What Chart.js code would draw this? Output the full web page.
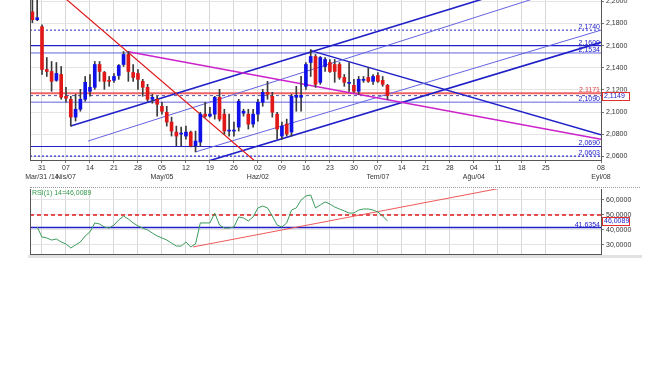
<!DOCTYPE html>
<html>
<head>
<meta charset="utf-8">
<script src="https://cdn.jsdelivr.net/npm/chart.js@4.4.1/dist/chart.umd.min.js"></script>
<style>
  body { margin: 0; background: #fff; width: 654px; height: 366px; position: relative; overflow: hidden; }
  canvas { position: absolute; left: 0; }
  #priceChart { top: 0; }
  #rsiChart { top: 186px; }
  .sep { position: absolute; left: 30px; width: 610px; top: 187px; border-top: 1px dotted #999; }
  .strip { position: absolute; left: 28px; width: 614px; top: 255px; height: 3px; background: #e2e2e2; }
</style>
</head>
<body>
<canvas id="priceChart" width="654" height="186"></canvas>
<div class="sep"></div>
<canvas id="rsiChart" width="654" height="72"></canvas>
<div class="strip"></div>
<script>
// trading day index: 0 = Mar 31, candles start two days earlier
const firstDay = -2;

const opens = [
  2.1905, 2.1834, 2.1771, 2.1385, 2.1367, 2.1287, 2.1340, 2.1143, 2.1116, 2.0955,
  2.1026, 2.1116, 2.1188, 2.1224, 2.1430, 2.1358, 2.1287, 2.1287, 2.1331, 2.1430,
  2.1520, 2.1358, 2.1349, 2.1278, 2.1224, 2.1116, 2.1116, 2.1053, 2.0999, 2.0910,
  2.0820, 2.0802, 2.0784, 2.0820, 2.0695, 2.0730, 2.0982, 2.0964, 2.0982, 2.1134,
  2.0982, 2.0829, 2.0829, 2.0865, 2.0991, 2.0982, 2.0892, 2.0982, 2.1089, 2.1179,
  2.1143, 2.0982, 2.0784, 2.0892, 2.0820, 2.1134, 2.1134, 2.1233, 2.1448, 2.1502,
  2.1269, 2.1412, 2.1448, 2.1430, 2.1430, 2.1313, 2.1260, 2.1242, 2.1188, 2.1287,
  2.1313, 2.1278, 2.1331, 2.1287, 2.1242
];
const highs = [
  2.2060, 2.2030, 2.1789, 2.1493, 2.1457, 2.1448, 2.1412, 2.1224, 2.1143, 2.1161,
  2.1206, 2.1322, 2.1340, 2.1457, 2.1457, 2.1367, 2.1322, 2.1349, 2.1430, 2.1547,
  2.1547, 2.1430, 2.1385, 2.1296, 2.1251, 2.1161, 2.1143, 2.1089, 2.1053, 2.0955,
  2.0874, 2.0865, 2.0874, 2.0829, 2.0829, 2.0999, 2.1089, 2.1044, 2.1143, 2.1206,
  2.1026, 2.0982, 2.0910, 2.1116, 2.1026, 2.1026, 2.1026, 2.1116, 2.1206, 2.1278,
  2.1179, 2.0999, 2.0910, 2.0937, 2.1161, 2.1233, 2.1322, 2.1448, 2.1565, 2.1520,
  2.1502, 2.1493, 2.1475, 2.1475, 2.1448, 2.1340, 2.1448, 2.1296, 2.1322, 2.1322,
  2.1403, 2.1340, 2.1358, 2.1322, 2.1251
];
const lows = [
  2.1807, 2.1825, 2.1340, 2.1322, 2.1188, 2.1278, 2.1116, 2.1089, 2.0874, 2.0919,
  2.1008, 2.1098, 2.1143, 2.1206, 2.1278, 2.1206, 2.1233, 2.1269, 2.1296, 2.1412,
  2.1278, 2.1278, 2.1206, 2.1143, 2.1098, 2.1080, 2.0964, 2.0982, 2.0874, 2.0784,
  2.0695, 2.0695, 2.0757, 2.0686, 2.0641, 2.0695, 2.0955, 2.0955, 2.0937, 2.0919,
  2.0802, 2.0784, 2.0784, 2.0829, 2.0964, 2.0847, 2.0865, 2.0919, 2.1053, 2.1116,
  2.0955, 2.0757, 2.0757, 2.0784, 2.0784, 2.1008, 2.1008, 2.1206, 2.1322, 2.1224,
  2.1251, 2.1367, 2.1358, 2.1269, 2.1296, 2.1233, 2.1188, 2.1179, 2.1161, 2.1269,
  2.1269, 2.1251, 2.1269, 2.1233, 2.1116
];
const closes = [
  2.1834, 2.1852, 2.1385, 2.1367, 2.1278, 2.1349, 2.1134, 2.1125, 2.0955, 2.1026,
  2.1116, 2.1269, 2.1224, 2.1430, 2.1367, 2.1278, 2.1278, 2.1322, 2.1421, 2.1520,
  2.1367, 2.1313, 2.1296, 2.1224, 2.1116, 2.1134, 2.1071, 2.1008, 2.0910, 2.0829,
  2.0784, 2.0811, 2.0820, 2.0695, 2.0739, 2.0982, 2.0964, 2.0982, 2.1134, 2.0937,
  2.0829, 2.0838, 2.0838, 2.1098, 2.1008, 2.0892, 2.0982, 2.1089, 2.1179, 2.1161,
  2.0999, 2.0847, 2.0874, 2.0802, 2.1143, 2.1152, 2.1152, 2.1430, 2.1502, 2.1251,
  2.1493, 2.1475, 2.1367, 2.1367, 2.1313, 2.1269, 2.1269, 2.1188, 2.1296, 2.1296,
  2.1278, 2.1322, 2.1278, 2.1251, 2.1149
];
const rsiValues = [
  null, 42.0, 35.3, 34.7, 33.3, 34.0, 32.0, 30.7, 28.0, 30.0,
  32.0, 36.0, 38.7, 44.7, 44.0, 42.0, 41.3, 43.3, 46.7, 49.3,
  47.3, 44.7, 42.7, 41.3, 40.0, 38.0, 36.0, 34.7, 33.3, 31.3,
  29.3, 29.3, 32.0, 28.7, 30.7, 44.7, 44.7, 44.7, 51.3, 43.3,
  41.3, 41.3, 42.0, 48.7, 48.0, 46.0, 48.7, 54.7, 56.0, 54.7,
  49.3, 43.3, 42.0, 44.7, 53.3, 54.7, 60.0, 62.7, 63.3, 54.7,
  56.7, 58.7, 57.3, 55.3, 54.0, 52.7, 51.3, 51.3, 53.3, 54.0,
  54.0, 53.3, 52.0, 49.3, 46.0089
];

// weekly ticks (trading day index) and their labels
const tickDays = [0, 5, 10, 15, 20, 25, 30, 35, 40, 45, 50, 55, 60, 65, 70, 75, 80, 85, 90, 95, 100, 105, 116.5];
const dayLabels = ['31', '07', '14', '21', '28', '05', '12', '19', '26', '02', '09', '16', '23', '30', '07', '14', '21', '28', '04', '11', '18', '25', '08'];
const monthLabels = ['Mar/31 /14', 'Nis/07', '', '', '', 'May/05', '', '', '', 'Haz/02', '', '', '', '', 'Tem/07', '', '', '', 'Ağu/04', '', '', '', 'Eyl/08'];

const priceTicks = [2.06, 2.08, 2.10, 2.12, 2.14, 2.16, 2.18, 2.20];
const rsiTicks = [30, 40, 50, 60];

// horizontal levels on the price panel
const levelValues = [2.1740, 2.1600, 2.1534, 2.1171, 2.1090, 2.0690, 2.0603];
const lastPrice = 2.1149;
// levels on the rsi panel
const rsiLevels = [50, 41.6354];
const lastRsi = 46.0089;

// trend lines as [day, value] pairs
const redTrend = [[4, 2.2058], [46, 2.0498]];
const magentaTrend = [[18, 2.1545], [116.5, 2.0755]];
const channelTop = [[6, 2.0874], [95, 2.2063]];
const channelTopInner = [[9.6, 2.0739], [104, 2.2045]];
const channelBottom = [[30, 2.0498], [116.5, 2.1630]];
const channelBottomInner = [[32, 2.0641], [116.5, 2.1740]];
const fallLine = [[56, 2.1555], [116.5, 2.0795]];
const rsiTrend = [[31.5, 28.7], [100, 70.6]];

const xMin = -2.5, xMax = 116.5;
const yMin = 2.0568, yMax = 2.2012;
const rsiMin = 24, rsiMax = 67.33;

const BLUE = '#2020c8';
const LIGHT_BLUE = '#6464e0';
const RED = '#e01818';

Chart.defaults.font.family = '"Liberation Sans", Arial, sans-serif';
Chart.defaults.font.size = 7;
Chart.defaults.color = '#333';

const fmt = v => v.toFixed(4).replace('.', ',');
const days = opens.map((_, i) => firstDay + i);

function seg(points) {
  return points.map(([x, y]) => ({ x, y }));
}

function lineSet(points, color, width, dash) {
  return {
    type: 'line',
    data: seg(points),
    borderColor: color,
    borderWidth: width,
    borderDash: dash || [],
    pointRadius: 0,
    fill: false,
    clip: 0,
    order: 5
  };
}

const levelStyles = [
  { color: BLUE, width: 1, dash: [2, 2] },
  { color: BLUE, width: 1.4 },
  { color: LIGHT_BLUE, width: 1 },
  { color: '#ef6464', width: 2 },
  { color: LIGHT_BLUE, width: 1 },
  { color: BLUE, width: 1.2 },
  { color: BLUE, width: 1.2, dash: [2, 2] }
];
const levelTextColors = [BLUE, BLUE, BLUE, '#e04040', BLUE, BLUE, BLUE];

const frame = {
  id: 'frame',
  afterDraw(chart) {
    const { ctx, chartArea: a } = chart;
    ctx.save();
    ctx.strokeStyle = '#555';
    ctx.lineWidth = 1;
    ctx.beginPath();
    ctx.moveTo(Math.round(a.left) + 0.5, a.top);
    ctx.lineTo(Math.round(a.left) + 0.5, a.bottom);
    ctx.stroke();
    ctx.restore();
  }
};

function drawValueBox(chart, value) {
  const { ctx, chartArea: a } = chart;
  const py = chart.scales.y.getPixelForValue(value);
  ctx.save();
  ctx.fillStyle = '#fff';
  ctx.fillRect(a.right + 1, py - 4, 28, 8);
  ctx.strokeStyle = '#e03030';
  ctx.lineWidth = 1;
  ctx.strokeRect(Math.round(a.right) + 1.5, Math.round(py) - 3.5, 27, 8);
  ctx.fillStyle = BLUE;
  ctx.textAlign = 'left';
  ctx.textBaseline = 'middle';
  ctx.fillText(fmt(value), a.right + 3, py + 0.5);
  ctx.restore();
}

const priceLabels = {
  id: 'priceLabels',
  afterDraw(chart) {
    const { ctx, chartArea: a } = chart;
    const y = chart.scales.y;
    ctx.save();
    ctx.font = '7px "Liberation Sans", Arial, sans-serif';
    ctx.textAlign = 'right';
    ctx.textBaseline = 'alphabetic';
    levelValues.forEach((v, i) => {
      ctx.fillStyle = levelTextColors[i];
      ctx.fillText(fmt(v), a.right - 1, y.getPixelForValue(v) - 1);
    });
    ctx.restore();
    drawValueBox(chart, lastPrice);
  }
};

const rsiLabels = {
  id: 'rsiLabels',
  afterDraw(chart) {
    const { ctx, chartArea: a } = chart;
    const y = chart.scales.y;
    ctx.save();
    ctx.font = '7px "Liberation Sans", Arial, sans-serif';
    ctx.textAlign = 'right';
    ctx.fillStyle = BLUE;
    ctx.fillText(fmt(rsiLevels[1]), a.right - 1, y.getPixelForValue(rsiLevels[1]) - 1);
    ctx.textAlign = 'left';
    ctx.textBaseline = 'top';
    ctx.fillStyle = '#2f9a4a';
    ctx.fillText('RSI(1) 14=' + fmt(lastRsi), a.left + 2, a.top + 1);
    ctx.restore();
    drawValueBox(chart, lastRsi);
  }
};

function xScale(showLabels) {
  return {
    type: 'linear',
    min: xMin,
    max: xMax,
    offset: false,
    afterBuildTicks: axis => { axis.ticks = tickDays.map(v => ({ value: v })); },
    afterFit: axis => { axis.height = showLabels ? 26 : 0; },
    grid: { color: '#d8d8d8', offset: false, drawTicks: showLabels, tickLength: 3, tickColor: '#777' },
    border: { color: '#555' },
    ticks: {
      display: showLabels,
      autoSkip: false,
      maxRotation: 0,
      padding: 1,
      color: '#333',
      callback: (v, i) => [dayLabels[i], monthLabels[i]]
    }
  };
}

function yScale(min, max, ticks) {
  return {
    position: 'right',
    min,
    max,
    afterBuildTicks: axis => { axis.ticks = ticks.map(v => ({ value: v })); },
    afterFit: axis => { axis.width = 53; axis.paddingTop = 0; axis.paddingBottom = 0; },
    grid: { color: '#e4e4e4', tickLength: 3, tickColor: '#777' },
    border: { color: '#555' },
    ticks: { padding: 2, color: '#333', callback: v => fmt(v) }
  };
}

const bodyData = opens.map((o, i) => ({ x: days[i], y: [Math.min(o, closes[i]), Math.max(o, closes[i])] }));
const wickData = lows.map((l, i) => ({ x: days[i], y: [l, highs[i]] }));
const bodyColors = opens.map((o, i) => closes[i] >= o ? '#1010e8' : RED);

const priceDatasets = [
  {
    data: bodyData,
    backgroundColor: bodyColors,
    barThickness: 3,
    minBarLength: 1,
    grouped: false,
    order: 1
  },
  {
    data: wickData,
    backgroundColor: '#3a3a3a',
    barThickness: 1,
    grouped: false,
    order: 2
  },
  lineSet(redTrend, RED, 1.2),
  lineSet(magentaTrend, '#cc22cc', 1.5),
  lineSet(channelTop, BLUE, 1.6),
  lineSet(channelTopInner, LIGHT_BLUE, 1),
  lineSet(channelBottom, BLUE, 1.6),
  lineSet(channelBottomInner, LIGHT_BLUE, 1),
  lineSet(fallLine, BLUE, 1.5),
  lineSet([[xMin, lastPrice], [xMax, lastPrice]], '#5050a8', 1, [3, 3])
];
levelValues.forEach((v, i) => {
  const s = levelStyles[i];
  priceDatasets.push(lineSet([[xMin, v], [xMax, v]], s.color, s.width, s.dash));
});

new Chart(document.getElementById('priceChart'), {
  type: 'bar',
  data: { datasets: priceDatasets },
  options: {
    responsive: false,
    animation: false,
    layout: { padding: { left: 30, top: 0, right: 0, bottom: 0 } },
    plugins: { legend: { display: false }, tooltip: { enabled: false } },
    scales: { x: xScale(true), y: yScale(yMin, yMax, priceTicks) }
  },
  plugins: [frame, priceLabels]
});

const rsiDatasets = [
  {
    type: 'line',
    data: rsiValues.map((v, i) => ({ x: days[i], y: v })),
    borderColor: '#3c9a5c',
    borderWidth: 1,
    pointRadius: 0,
    fill: false,
    clip: 0,
    order: 1
  },
  lineSet(rsiTrend, '#ee5a5a', 1),
  lineSet([[xMin, rsiLevels[0]], [xMax, rsiLevels[0]]], RED, 1.3, [4, 3]),
  lineSet([[xMin, rsiLevels[1]], [xMax, rsiLevels[1]]], BLUE, 1.4)
];

new Chart(document.getElementById('rsiChart'), {
  type: 'line',
  data: { datasets: rsiDatasets },
  options: {
    responsive: false,
    animation: false,
    layout: { padding: { left: 30, top: 3, right: 0, bottom: 4 } },
    plugins: { legend: { display: false }, tooltip: { enabled: false } },
    scales: { x: xScale(false), y: yScale(rsiMin, rsiMax, rsiTicks) }
  },
  plugins: [frame, rsiLabels]
});
</script>
</body>
</html>
